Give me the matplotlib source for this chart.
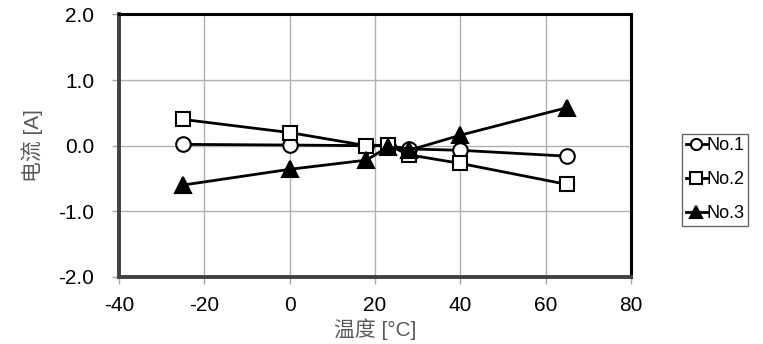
import matplotlib
matplotlib.use("Agg")
import matplotlib.pyplot as plt
from matplotlib.legend_handler import HandlerLine2D

# temperatures and measured currents
temps = [-25, 0, 18, 23, 28, 40, 65]
no1 = [0.02, 0.01, 0.0, 0.0, -0.05, -0.07, -0.16]
no2 = [0.40, 0.20, 0.0, 0.01, -0.14, -0.27, -0.59]
no3 = [-0.60, -0.36, -0.22, -0.02, -0.07, 0.16, 0.58]

labels = ["No.1", "No.2", "No.3"]
xticks = [-40, -20, 0, 20, 40, 60, 80]
yticks = [-2.0, -1.0, 0.0, 1.0, 2.0]

plt.rcParams['font.family'] = ['Liberation Sans', 'Noto Sans CJK SC', 'DejaVu Sans']
plt.rcParams['axes.unicode_minus'] = False


# excel style legend: marker sits near the left end of the line
class LeftMarker(HandlerLine2D):
    def get_xdata(self, legend, xdescent, ydescent, width, height, fontsize):
        xdata, _ = super().get_xdata(legend, xdescent, ydescent, width, height, fontsize)
        return xdata, [xdata[0] + 0.12 * width]


fig = plt.figure(figsize=(7.63, 3.44), dpi=100)
ax = fig.add_axes([0.156, 0.195, 0.671, 0.763])

common = dict(color='black', lw=2, markeredgewidth=1.5,
              markeredgecolor='black', clip_on=False)
l1, = ax.plot(temps, no1, marker='o', markersize=10.5, markerfacecolor='white', **common)
l2, = ax.plot(temps, no2, marker='s', markersize=10.5, markerfacecolor='white', **common)
l3, = ax.plot(temps, no3, marker='^', markersize=11, markerfacecolor='black', **common)

ax.set_xlim(-40, 80)
ax.set_ylim(-2.0, 2.0)
ax.set_xticks(xticks)
ax.set_yticks(yticks)
ax.set_yticklabels([f"{v:.1f}" for v in yticks])
ax.grid(True, color='#b0b0b0', lw=1)
ax.set_axisbelow(True)

for s in ['top', 'right']:
    ax.spines[s].set_color('black')
    ax.spines[s].set_linewidth(2.2)
for s in ['left', 'bottom']:
    ax.spines[s].set_color('#404040')
    ax.spines[s].set_linewidth(2.8)

ax.tick_params(axis='both', direction='out', length=5, width=1, color='#a6a6a6',
               labelsize=15, labelcolor='black')
ax.tick_params(axis='y', pad=13)
ax.tick_params(axis='x', pad=9)

ax.set_xlabel("温度 [°C]", fontsize=15, color='#595959', labelpad=2)
ax.set_ylabel("电流 [A]", fontsize=15, color='#595959', labelpad=11)

leg = ax.legend([l1, l2, l3], labels, loc='center left', bbox_to_anchor=(1.1, 0.37),
                frameon=True, fancybox=False, edgecolor='#404040', fontsize=13,
                handlelength=1.15, handletextpad=0.0, borderpad=0.2,
                labelspacing=0.95, borderaxespad=0, handler_map={
                    matplotlib.lines.Line2D: LeftMarker(numpoints=1)})
leg.get_frame().set_linewidth(1)
for h in leg.legend_handles:
    h.set_markersize(8)

fig.savefig("out.png", dpi=100)
